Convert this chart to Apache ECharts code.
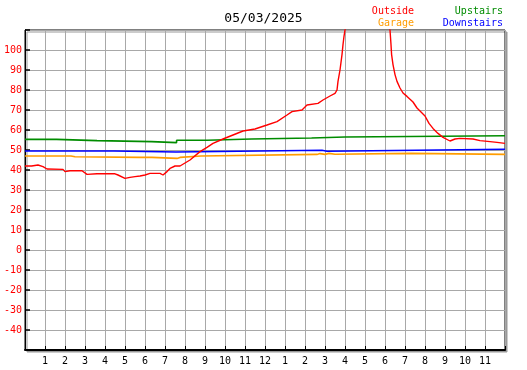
<!DOCTYPE html>
<html>
<head>
<meta charset="utf-8">
<script src="https://cdn.jsdelivr.net/npm/echarts@6/dist/echarts.min.js"></script>
<style>html,body{margin:0;padding:0;background:#fff}#c{width:527px;height:370px}</style>
</head>
<body>
<div id="c"></div>
<script>
var chartTitle = '05/03/2025';
var seriesNames = ['Outside', 'Garage', 'Upstairs', 'Downstairs'];
var seriesColors = ['#ff0000', '#ff9c00', '#008c00', '#0000ff'];

// Outside (red)
var outsideHours = [0,0.33,0.65,0.9,1.1,1.9,2.0,2.25,2.85,2.9,3.1,3.6,4.5,4.65,4.75,5.0,5.25,5.5,5.75,6.0,6.25,6.75,6.9,7.1,7.25,7.5,7.75,8.25,8.75,9.1,9.4,9.9,10.4,10.9,11.5,12.1,12.6,13.1,13.35,13.85,14.1,14.65,14.9,15.25,15.5,15.6,15.65,15.75,15.85,15.9,15.95,16.0,16.5,17.2,18.0,18.25,18.3,18.33,18.4,18.5,18.6,18.75,18.9,19.1,19.4,19.6,20.0,20.2,20.4,20.65,20.9,21.25,21.5,21.75,22.4,22.75,23.25,23.6,24];
var outsideTemps = [42,42,42.5,41.7,40.5,40.3,39.2,39.6,39.6,38.8,37.8,38.1,38.1,37.5,36.7,35.8,36.3,36.7,37,37.5,38.3,38.3,37.5,39.2,40.8,42,42,45,49.2,51.3,53.3,55.5,57.5,59.5,60.5,62.5,64.2,67.5,69.2,70,72.5,73.3,75,77,78.3,80,84.3,90,97.7,102.7,106.8,110,125,135,125,110,102.7,97.7,92.7,87.7,84.3,81,78.5,76.8,74,71,67,63.3,60.8,58.3,56.3,54.5,55.5,55.8,55.5,54.7,54.2,53.8,53.3];

// Garage (orange) - value holds from each hour onward
var garageHours = [0,2,2.1,2.3,2.5,5.7,5.8,6.35,7.6,7.75,8.8,14.6,14.75,15,15.2,15.5,19.3,24];
var garageTemps = [47,46.6,47,46.6,46.3,46.5,46.3,45.8,46.3,47,47.8,48.2,47.8,48.3,47.9,48.3,47.8,47.8];

// Upstairs (green)
var upstairsHours = [0,1.58,3.6,6.33,7.58,9.1,11.33,14.33,16,24];
var upstairsTemps = [55.3,54.7,54.2,53.7,54.9,55.5,56,56.5,57.1,57.1];

// Downstairs (blue)
var downstairsHours = [0,4.45,7.55,14.85,15.1,24];
var downstairsTemps = [49.5,49.0,49.9,49.4,50.4,50.4];

function pairs(h, v) { return h.map(function (x, i) { return [x, v[i]]; }); }

var yTickMin = -50, yTickMax = 110, yInterval = 10;
var xMin = 0, xMax = 24, xInterval = 1;

var font = 'DejaVu Sans Mono';
var chart = echarts.init(document.getElementById('c'));
chart.setOption({
  animation: false,
  backgroundColor: '#ffffff',
  title: [
    { text: chartTitle, left: 'center', top: 12, padding: 0,
      textStyle: { fontFamily: font, fontSize: 13, fontWeight: 'normal', color: '#000' } },
    { text: seriesNames[0], right: 113, top: 6, padding: 0,
      textStyle: { fontFamily: font, fontSize: 10, fontWeight: 'normal', color: seriesColors[0] } },
    { text: seriesNames[1], right: 113, top: 18, padding: 0,
      textStyle: { fontFamily: font, fontSize: 10, fontWeight: 'normal', color: seriesColors[1] } },
    { text: seriesNames[2], right: 24, top: 6, padding: 0,
      textStyle: { fontFamily: font, fontSize: 10, fontWeight: 'normal', color: seriesColors[2] } },
    { text: seriesNames[3], right: 24, top: 18, padding: 0,
      textStyle: { fontFamily: font, fontSize: 10, fontWeight: 'normal', color: seriesColors[3] } }
  ],
  grid: {
    left: 25, top: 30, width: 480, height: 320,
    show: true, backgroundColor: '#ffffff', borderColor: '#000', borderWidth: 1,
    shadowColor: '#999', shadowOffsetX: 2, shadowOffsetY: 2, shadowBlur: 0
  },
  xAxis: {
    type: 'value', min: xMin, max: xMax, interval: xInterval,
    axisLine: { show: true, onZero: false, lineStyle: { color: '#000', width: 2 } },
    axisTick: { show: true, inside: true, length: 4, lineStyle: { color: '#000', width: 1 } },
    splitLine: { show: true, lineStyle: { color: '#a8a8a8', width: 1 } },
    axisLabel: {
      fontFamily: font, fontSize: 10, color: '#000', margin: 6,
      formatter: function (v) {
        if (v <= 0 || v >= 24) return '';
        return String(v <= 12 ? v : v - 12);
      }
    }
  },
  yAxis: {
    type: 'value', min: yTickMin, max: yTickMax, interval: yInterval,
    axisLine: { show: true, onZero: false, lineStyle: { color: '#000', width: 1 } },
    axisTick: { show: true, inside: true, length: 5, lineStyle: { color: '#000', width: 1.5 } },
    splitLine: { show: true, lineStyle: { color: '#a8a8a8', width: 1 } },
    axisLabel: {
      fontFamily: font, fontSize: 10, color: '#ff0000', margin: 3,
      formatter: function (v) { return (v <= yTickMin || v >= yTickMax) ? '' : String(v); }
    }
  },
  series: [
    { name: seriesNames[2], type: 'line', data: pairs(upstairsHours, upstairsTemps), step: 'end',
      showSymbol: false, lineStyle: { color: seriesColors[2], width: 1.6 }, clip: true },
    { name: seriesNames[3], type: 'line', data: pairs(downstairsHours, downstairsTemps), step: 'end',
      showSymbol: false, lineStyle: { color: seriesColors[3], width: 1.6 }, clip: true },
    { name: seriesNames[1], type: 'line', data: pairs(garageHours, garageTemps), step: 'end',
      showSymbol: false, lineStyle: { color: seriesColors[1], width: 1.6 }, clip: true },
    { name: seriesNames[0], type: 'line', data: pairs(outsideHours, outsideTemps),
      showSymbol: false, lineStyle: { color: seriesColors[0], width: 1.4 }, clip: true }
  ]
});
</script>
</body>
</html>
